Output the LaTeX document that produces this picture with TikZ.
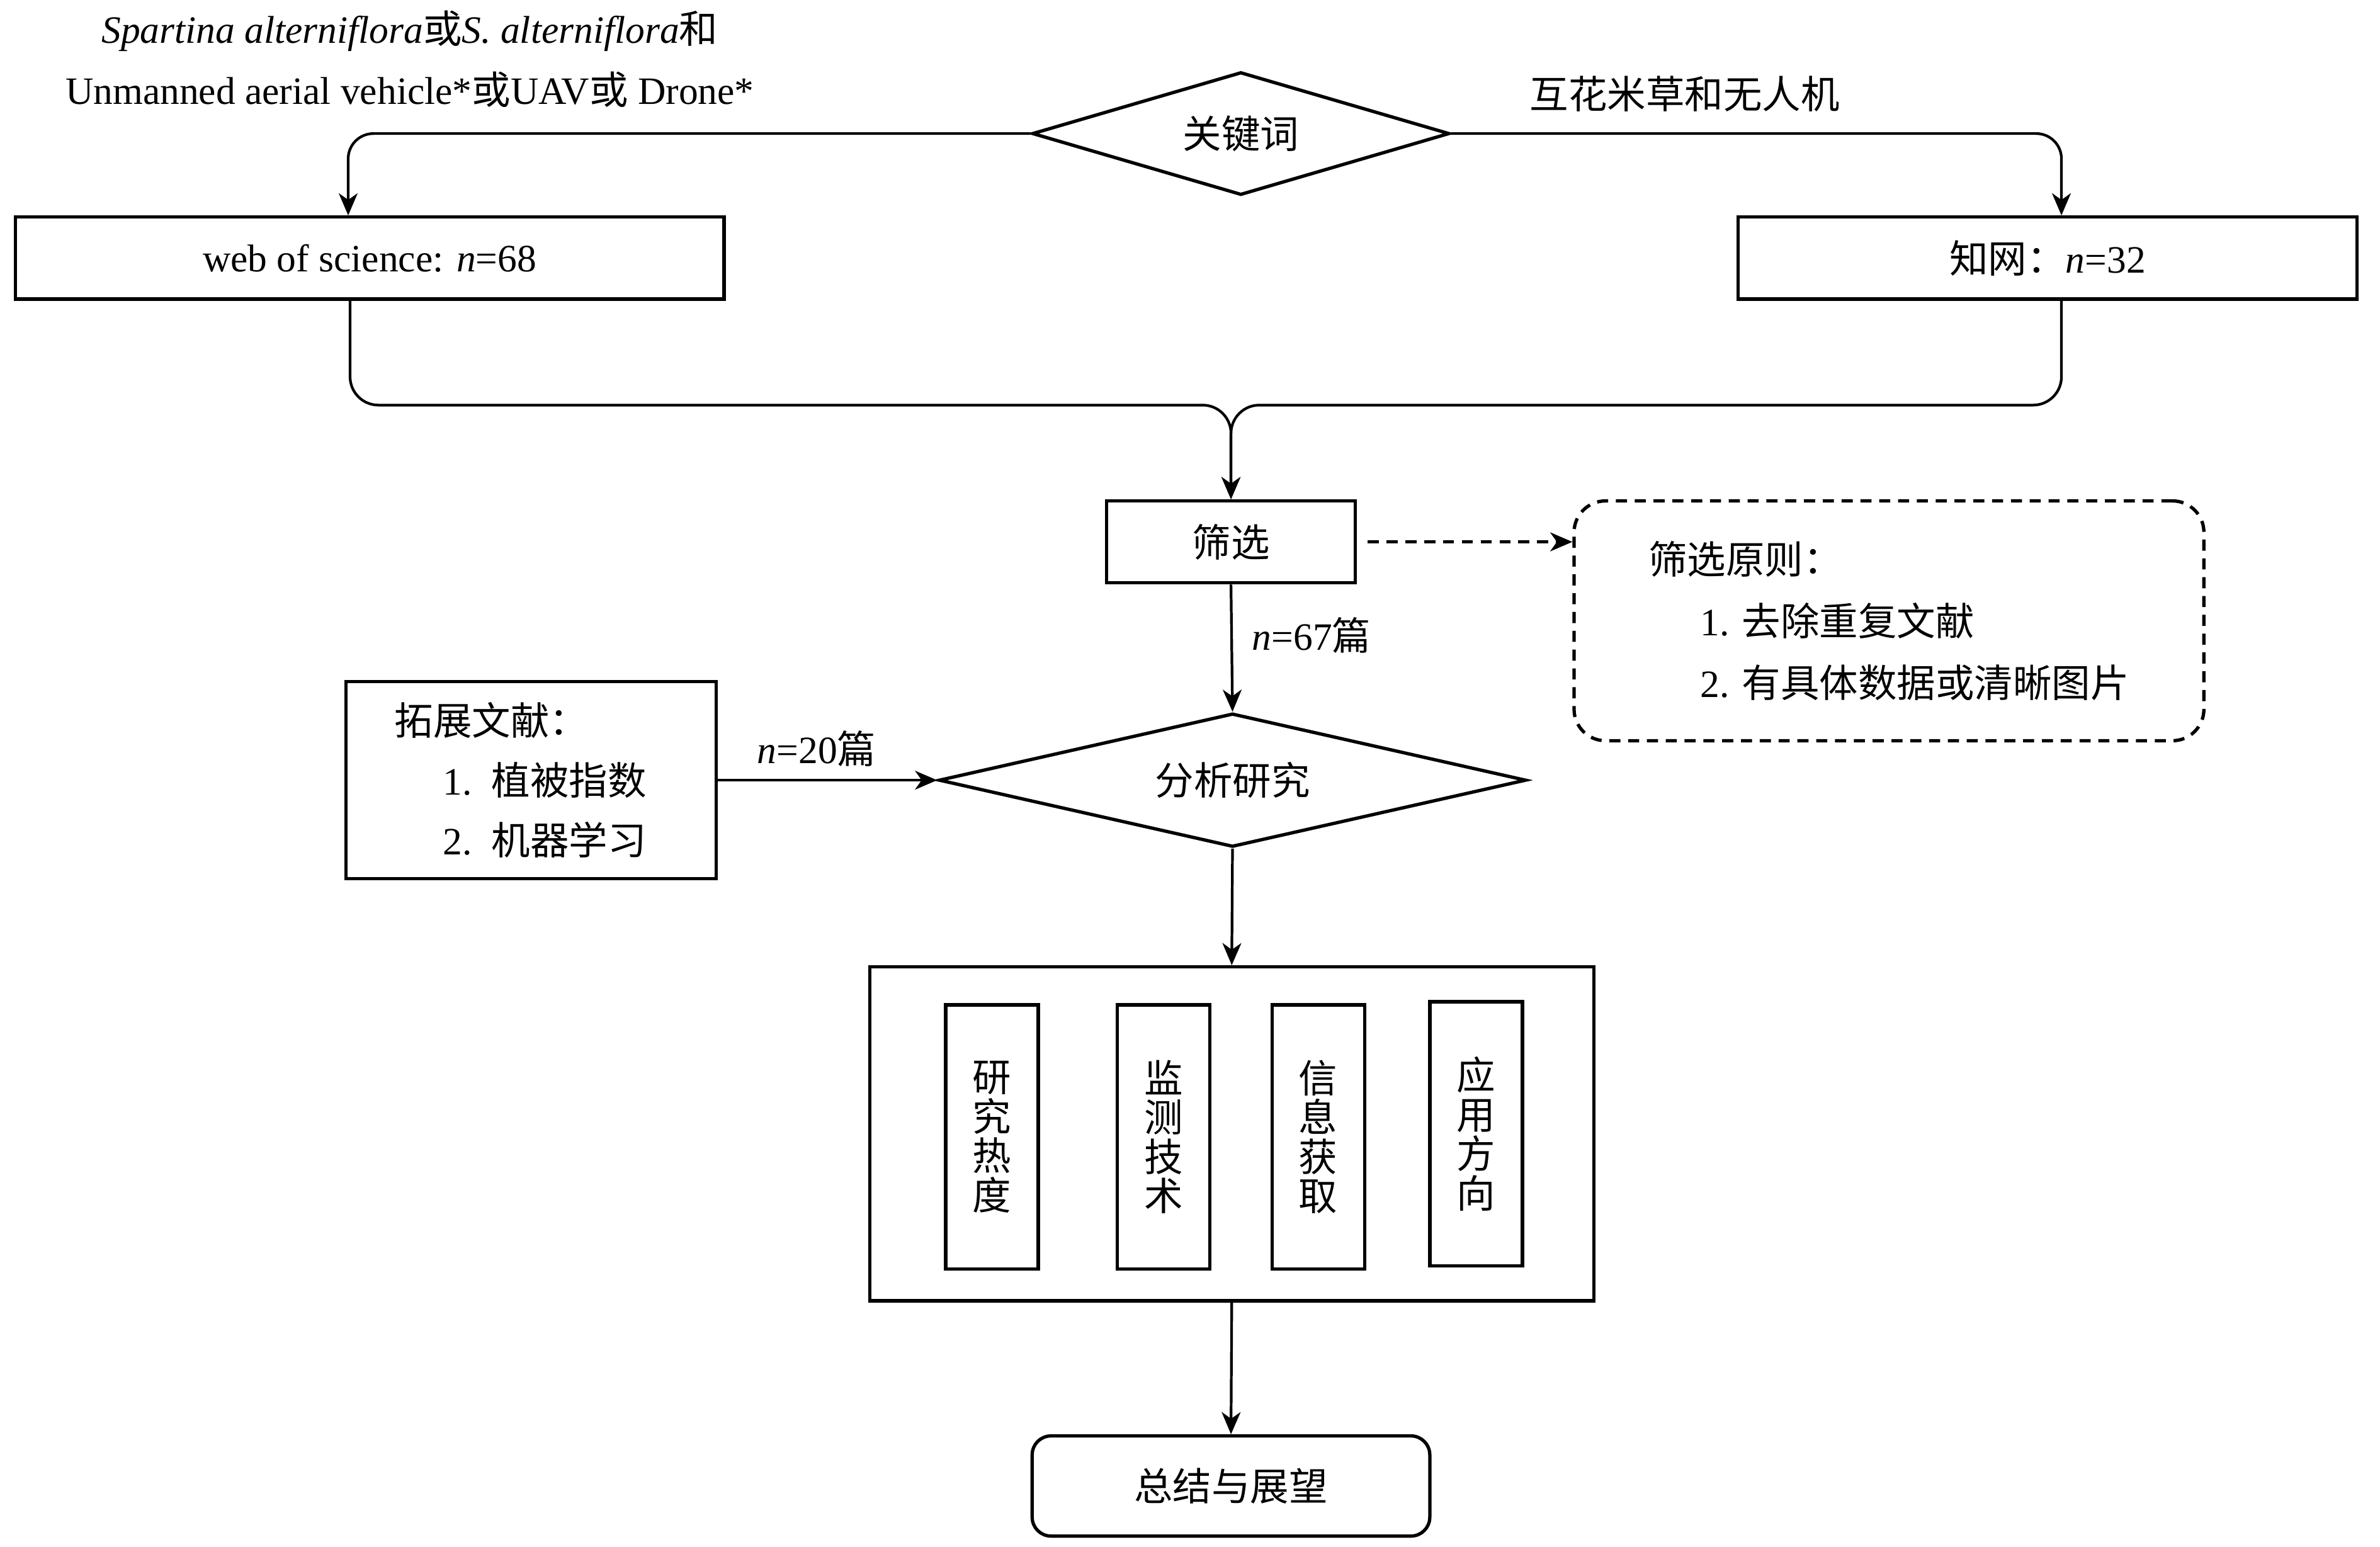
\documentclass[tikz,border=0pt]{standalone}
\usepackage{fontspec}
\setmainfont{Liberation Serif}
\newfontfamily\cjk{Noto Sans CJK SC}
\usetikzlibrary{shapes.geometric,arrows.meta}
\begin{document}
\begin{tikzpicture}[x=0.024107cm,y=-0.024107cm,
  every node/.style={font=\fontsize{17.5}{26}\selectfont},
  cn/.style={font=\fontsize{17.5}{26}\cjk},
  shp/.style={draw, line width=1.5pt, inner sep=0pt},
  box/.style={shp, rectangle},
  diam/.style={shp, diamond},
  ibox/.style={shp, rectangle, minimum width=1.471cm, minimum height=4.195cm, align=center, font=\fontsize{17.5}{17.8}\cjk},
  con/.style={line width=1.2pt},
  tip/.style={-{Stealth[length=10pt,width=8.5pt,inset=3pt]}},
  arr/.style={con, tip},
  dsh/.style={line width=1.5pt, dash pattern=on 5pt off 3.5pt}
]
\useasboundingbox (0,0) rectangle (1568,1019);
\fill[white] (0,0) rectangle (1568,1019);

% keyword texts
\node[align=center, font=\fontsize{17.5}{27.5}\selectfont] (kwen) at (270,39)
  {\textit{Spartina alterniflora}{\cjk 或}\textit{S. alterniflora}{\cjk 和}\\Unmanned aerial vehicle*{\cjk 或}UAV{\cjk 或} Drone*};
\node[cn] (kwcn) at (1110,62) {互花米草和无人机};

% keyword diamond
\node[diam, cn, aspect=3.4, minimum width=6.629cm, minimum height=1.953cm] (kw) at (817.5,88) {关键词};

% database boxes
\node[box, minimum width=11.258cm, minimum height=1.302cm] (web) at (243.5,170) {web of science: \textit{n}=68};
\node[box, minimum width=9.836cm, minimum height=1.302cm] (cnki) at (1349,170) {{\cjk 知网：}\textit{n}=32};

% screening
\node[box, cn, minimum width=3.954cm, minimum height=1.302cm] (sx) at (811,357) {筛选};
\node[shp, rectangle, rounded corners=0.5cm, dash pattern=on 5pt off 3.5pt, minimum width=10.004cm, minimum height=3.809cm, align=left, font=\fontsize{17.5}{28}\selectfont] (crit) at (1244.5,409)
  {{\cjk 筛选原则：}\\\hspace*{0.82cm}1. {\cjk 去除重复文献}\\\hspace*{0.82cm}2. {\cjk 有具体数据或清晰图片}};

% extension
\node[box, minimum width=5.882cm, minimum height=3.134cm, inner xsep=0.77cm, text width=4.34cm, align=left, font=\fontsize{17.5}{27}\selectfont] (tz) at (350,514)
  {{\cjk 拓展文献：}\\\hspace*{0.77cm}1. {\cjk 植被指数}\\\hspace*{0.77cm}2. {\cjk 机器学习}};

% analysis diamond
\node[diam, cn, aspect=4.4, minimum width=9.329cm, minimum height=2.121cm] (fx) at (812,514) {分析研究};

% big box and inner boxes
\node[box, minimum width=11.499cm, minimum height=5.304cm] (big) at (811.5,747) {};
\node[ibox] (i1) at (653.5,749) {研\\究\\热\\度};
\node[ibox] (i2) at (766.5,749) {监\\测\\技\\术};
\node[ibox] (i3) at (868.5,749) {信\\息\\获\\取};
\node[ibox] (i4) at (972.5,747) {应\\用\\方\\向};

% summary
\node[shp, rectangle, rounded corners=0.3cm, cn, minimum width=6.316cm, minimum height=1.591cm] (sum) at (811,979) {总结与展望};

% connectors
\draw[arr, rounded corners=0.4cm] (kw.west) -| ([xshift=-0.34cm]web.north);
\draw[arr, rounded corners=0.4cm] (kw.east) -| ([xshift=0.22cm]cnki.north);
\draw[arr, rounded corners=0.45cm] ([xshift=-0.31cm]web.south) |- ([yshift=1.495cm]sx.north) -- (sx.north);
\draw[arr, rounded corners=0.45cm] ([xshift=0.22cm]cnki.south) |- ([yshift=1.495cm]sx.north) -- (sx.north);
\draw[dsh, tip, shorten <=0.17cm] (sx.east) -- (sx.east -| crit.west);
\draw[arr] (sx.south) -- node[pos=0.4, anchor=west, xshift=0.19cm] (n67) {\textit{n}=67{\cjk 篇}} (fx.north);
\draw[arr] (tz.east) -- node[pos=0.45, above, yshift=0.08cm] (n20) {\textit{n}=20{\cjk 篇}} (fx.west);
\draw[arr] (fx.south) -- (big.north);
\draw[arr] (big.south) -- (sum.north);
\end{tikzpicture}
\end{document}
